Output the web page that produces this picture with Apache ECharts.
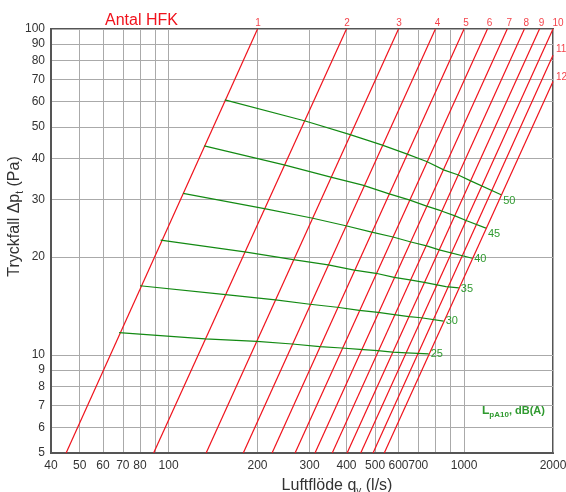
<!DOCTYPE html>
<html><head><meta charset="utf-8">
<script src="https://cdn.jsdelivr.net/npm/echarts@6/dist/echarts.min.js"></script>
<style>html,body{margin:0;padding:0;background:#fff}#c{width:566px;height:492px}</style>
</head><body><div id="c"></div>
<script>
// ---- data ----
const xGridValues = [40, 50, 60, 70, 80, 90, 100, 200, 300, 400, 500, 600, 700, 800, 900, 1000, 2000];
const xTickLabels = [40, 50, 60, 70, 80, 100, 200, 300, 400, 500, 600, 700, 1000, 2000];
const yGridValues = [5, 6, 7, 8, 9, 10, 20, 30, 40, 50, 60, 70, 80, 90, 100];
const yTickLabels = [5, 6, 7, 8, 9, 10, 20, 30, 40, 50, 60, 70, 80, 90, 100];

const hfkCounts = ['1', '2', '3', '4', '5', '6', '7', '8', '9', '10', '11', '12'];
const redBottomQ = [45, 89, 134, 179, 224, 268, 313, 358, 402, 447, 492, 537];
const redBottomDp = [5, 5, 5, 5, 5, 5, 5, 5, 5, 5, 5, 5];
const redTopQ = [200, 400, 600, 800, 1000, 1200, 1400, 1600, 1800, 2000, 2000, 2000];
const redTopDp = [100, 100, 100, 100, 100, 100, 100, 100, 100, 100, 83, 69];

const noiseLevels = ['25', '30', '35', '40', '45', '50'];
const noise25 = [[68, 11.7], [133, 11.2], [199, 11.0], [262, 10.8], [325, 10.6], [385, 10.5], [444, 10.4], [510, 10.3], [573, 10.2], [639, 10.15], [759, 10.07]];
const noise30 = [[80, 16.3], [156, 15.3], [230, 14.75], [301, 14.3], [372, 14.0], [442, 13.7], [512, 13.5], [580, 13.3], [651, 13.1], [715, 13.0], [853, 12.7]];
const noise35 = [[94, 22.5], [181, 20.7], [264, 19.6], [347, 18.9], [425, 18.2], [503, 17.8], [580, 17.3], [656, 17.0], [733, 16.7], [868, 16.2], [960, 16.05]];
const noise40 = [[112, 31.3], [211, 28.1], [305, 26.3], [398, 24.9], [487, 23.8], [575, 23.0], [661, 22.2], [747, 21.6], [824, 21.0], [1066, 19.8]];
const noise45 = [[132, 43.8], [246, 38.3], [354, 35.1], [454, 33.2], [558, 31.2], [652, 29.9], [747, 28.6], [834, 27.7], [932, 26.7], [1021, 25.8], [1186, 24.5]];
const noise50 = [[155, 60.6], [290, 52.2], [409, 47.5], [526, 44.1], [639, 41.4], [747, 39.2], [857, 36.9], [952, 35.7], [1053, 34.2], [1335, 31.0]];
const noiseSeries = [noise25, noise30, noise35, noise40, noise45, noise50];

// ---- styles ----
const FONT = 'Liberation Sans, Arial, Helvetica, sans-serif';
const RED = '#f0121c';
const GREEN = '#138a13';
const GREEN_TXT = '#2f9a2f';
const GRID = '#aaaaaa';
const endLabelOffsets = [[0, 0], [0, 0], [0, 1], [0, 1], [0, 6], [0, 6]];

const series = [];
hfkCounts.forEach((n, i) => {
  series.push({
    type: 'line', name: 'HFK ' + n, silent: true, showSymbol: false, z: 3,
    lineStyle: { color: RED, width: 1.2 },
    data: [[redBottomQ[i], redBottomDp[i]], [redTopQ[i], redTopDp[i]]]
  });
});
series.push({
  type: 'scatter', silent: true, symbolSize: 0, z: 4, clip: false,
  data: hfkCounts.map((n, i) => {
    const side = redTopDp[i] < 100;
    return {
      value: [redTopQ[i], redTopDp[i], n],
      label: side ? { position: 'right', distance: 3, offset: [0, i === 10 ? -6 : -4] }
                  : { position: 'top', distance: 1, offset: [i === 9 ? 5 : (i >= 3 ? 2 : 0.5), 0] }
    };
  }),
  label: { show: true, formatter: p => p.value[2], color: RED, fontSize: 10, fontFamily: FONT }
});
noiseLevels.forEach((lv, i) => {
  series.push({
    type: 'line', name: lv + ' dB', silent: true, showSymbol: false, z: 5,
    lineStyle: { color: GREEN, width: 1.2 },
    data: noiseSeries[i],
    endLabel: { show: true, formatter: lv, color: GREEN_TXT, fontSize: 11, fontFamily: FONT, distance: 2, offset: endLabelOffsets[i] }
  });
});

const chart = echarts.init(document.getElementById('c'), null, { renderer: 'canvas' });
chart.setOption({
  animation: false,
  backgroundColor: '#fff',
  title: {
    text: 'Antal HFK', left: 100, top: 8,
    textStyle: { color: RED, fontSize: 16, fontWeight: 'normal', fontFamily: FONT }
  },
  grid: { left: 51, right: 13, top: 29, bottom: 39, show: true, borderColor: '#555', borderWidth: 2, backgroundColor: 'transparent', containLabel: false, outerBoundsMode: 'none' },
  xAxis: {
    type: 'log', logBase: 10, min: 40, max: 2000,
    name: 'Luftflöde q{sub|v} (l/s)', nameLocation: 'middle', nameGap: 23, nameMoveOverlap: false,
    nameTextStyle: { fontSize: 16, color: '#333', fontFamily: FONT, padding: [0, 0, 0, 70],
      rich: { sub: { fontSize: 10, verticalAlign: 'bottom', lineHeight: 20, color: '#333', fontFamily: FONT } } },
    axisLine: { show: true, onZero: false, lineStyle: { color: '#555', width: 2 } },
    axisTick: { show: false, customValues: xGridValues },
    axisLabel: { customValues: xTickLabels, formatter: v => String(v), color: '#333', fontSize: 12, fontFamily: FONT, margin: 7 },
    splitLine: { show: true, lineStyle: { color: GRID, width: 1 } },
    minorTick: { show: false }, minorSplitLine: { show: false }
  },
  yAxis: {
    type: 'log', logBase: 10, min: 5, max: 100,
    name: 'Tryckfall Δp{sub|t} (Pa)', nameLocation: 'middle', nameGap: 26, nameRotate: 90, nameMoveOverlap: false,
    nameTextStyle: { fontSize: 16, color: '#333', fontFamily: FONT, padding: [0, 0, 0, 49],
      rich: { sub: { fontSize: 10, verticalAlign: 'bottom', lineHeight: 20, color: '#333', fontFamily: FONT } } },
    axisLine: { show: true, onZero: false, lineStyle: { color: '#555', width: 2 } },
    axisTick: { show: false, customValues: yGridValues },
    axisLabel: { customValues: yTickLabels, formatter: v => String(v), color: '#333', fontSize: 12, fontFamily: FONT, margin: 6 },
    splitLine: { show: true, lineStyle: { color: GRID, width: 1 } },
    minorTick: { show: false }, minorSplitLine: { show: false }
  },
  graphic: [{
    type: 'text', left: 482, top: 405, silent: true,
    style: {
      text: '{a|L}{b|pA10}{c|, dB(A)}',
      rich: {
        a: { fontSize: 12, fontWeight: 'bold', fill: GREEN_TXT, fontFamily: FONT, lineHeight: 16 },
        b: { fontSize: 8, fontWeight: 'bold', fill: GREEN_TXT, fontFamily: FONT, verticalAlign: 'bottom', lineHeight: 16 },
        c: { fontSize: 11, fontWeight: 'bold', fill: GREEN_TXT, fontFamily: FONT, lineHeight: 16 }
      }
    }
  }],
  series: series
});
</script></body></html>
